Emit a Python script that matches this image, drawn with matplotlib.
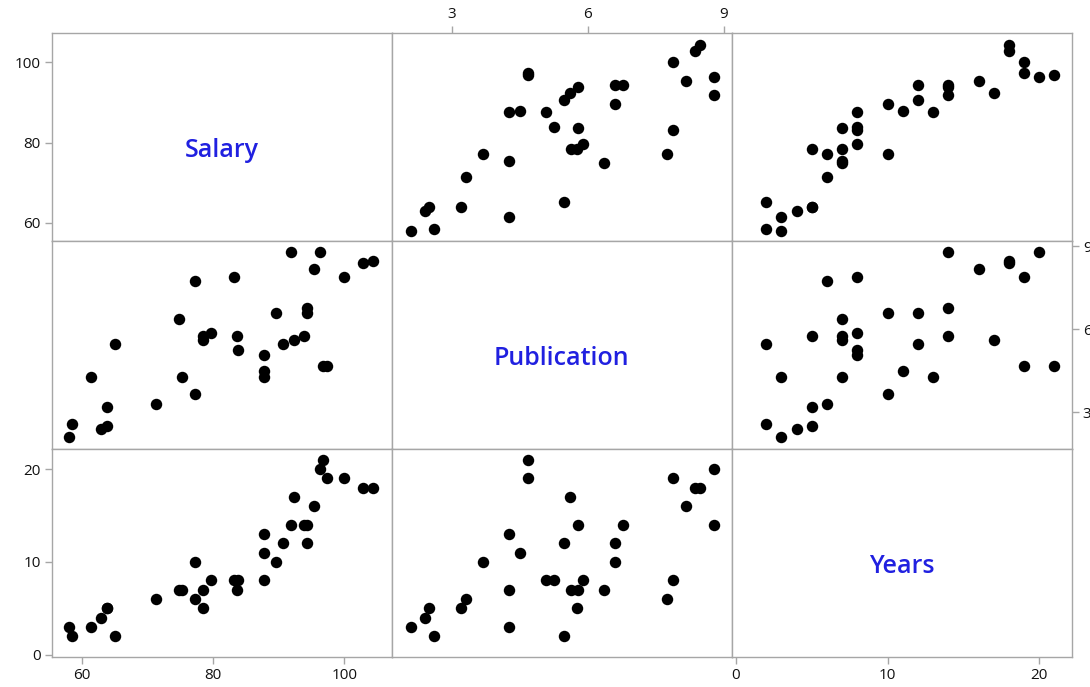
import matplotlib
matplotlib.use("Agg")
import matplotlib.pyplot as plt

# ---- data ----
salary = [58.0, 58.5, 61.4, 62.9, 63.9, 63.9, 65.1, 71.3, 74.8, 75.3,
          77.2, 77.2, 78.4, 78.4, 79.7, 83.2, 83.8, 83.6, 87.7, 87.7,
          87.8, 89.6, 90.6, 91.85, 92.3, 93.8, 94.3, 94.3, 95.3, 96.3,
          96.8, 97.3, 100.0, 102.9, 104.4]
publication = [2.1, 2.6, 4.26, 2.4, 2.5, 3.2, 5.48, 3.3, 6.36, 4.26,
               7.75, 3.68, 5.62, 5.76, 5.88, 7.88, 5.26, 5.77, 5.08, 4.26,
               4.5, 6.6, 5.48, 8.77, 5.6, 5.77, 6.78, 6.6, 8.17, 8.77,
               4.68, 4.68, 7.88, 8.37, 8.47]
years = [3, 2, 3, 4, 5, 5, 2, 6, 7, 7,
         6, 10, 7, 5, 8, 8, 8, 7, 8, 13,
         11, 10, 12, 14, 17, 14, 14, 12, 16, 20,
         21, 19, 19, 18, 18]

var_names = ["Salary", "Publication", "Years"]
var_data = [salary, publication, years]
var_ticks = [[60, 80, 100], [3, 6, 9], [0, 10, 20]]
var_limits = [(55.4, 107.2), (1.67, 9.17), (-0.28, 22.14)]

# ---- layout ----
W, H = 1090, 687
fig = plt.figure(figsize=(W / 100, H / 100), dpi=100)
plt.rcParams['font.family'] = ['Open Sans', 'DejaVu Sans']

left_px, top_px = 51.7, 33.3
cw, ch = 340.0, 208.0
spine_color = "#a6a6a6"
tick_color = "#111111"
label_color = "#2020e0"

for r in range(3):
    for c in range(3):
        x0 = (left_px + c * cw) / W
        y0 = 1 - (top_px + (r + 1) * ch) / H
        ax = fig.add_axes([x0, y0, cw / W, ch / H])
        ax.set_xlim(*var_limits[c])
        ax.set_ylim(*var_limits[r])
        for s in ax.spines.values():
            s.set_color(spine_color)
            s.set_linewidth(1.0)
        ax.tick_params(which="both", length=0, labelbottom=False,
                       labelleft=False, labeltop=False, labelright=False,
                       bottom=False, top=False, left=False, right=False)
        if r == c:
            ax.text(0.5, 0.5 - 19.5 / ch, var_names[r], transform=ax.transAxes,
                    ha="center", va="baseline", fontsize=18,
                    fontweight="semibold", color=label_color)
        else:
            ax.scatter(var_data[c], var_data[r], s=68, color="black",
                       linewidths=0, zorder=3)
        tick_kw = dict(length=5, width=1.0, color=spine_color,
                       labelcolor=tick_color, labelsize=11, pad=3)
        if (c in (0, 2) and r == 2) or (c == 1 and r == 0):
            ax.set_xticks(var_ticks[c])
            if c == 1:
                ax.tick_params(axis="x", top=True, labeltop=True, **tick_kw)
            else:
                ax.tick_params(axis="x", bottom=True, labelbottom=True, **tick_kw)
        else:
            ax.set_xticks([])
        if (r in (0, 2) and c == 0) or (r == 1 and c == 2):
            ax.set_yticks(var_ticks[r])
            if r == 1:
                ax.tick_params(axis="y", right=True, labelright=True, **tick_kw)
            else:
                ax.tick_params(axis="y", left=True, labelleft=True, **tick_kw)
        else:
            ax.set_yticks([])

fig.savefig("out.png", dpi=100)
